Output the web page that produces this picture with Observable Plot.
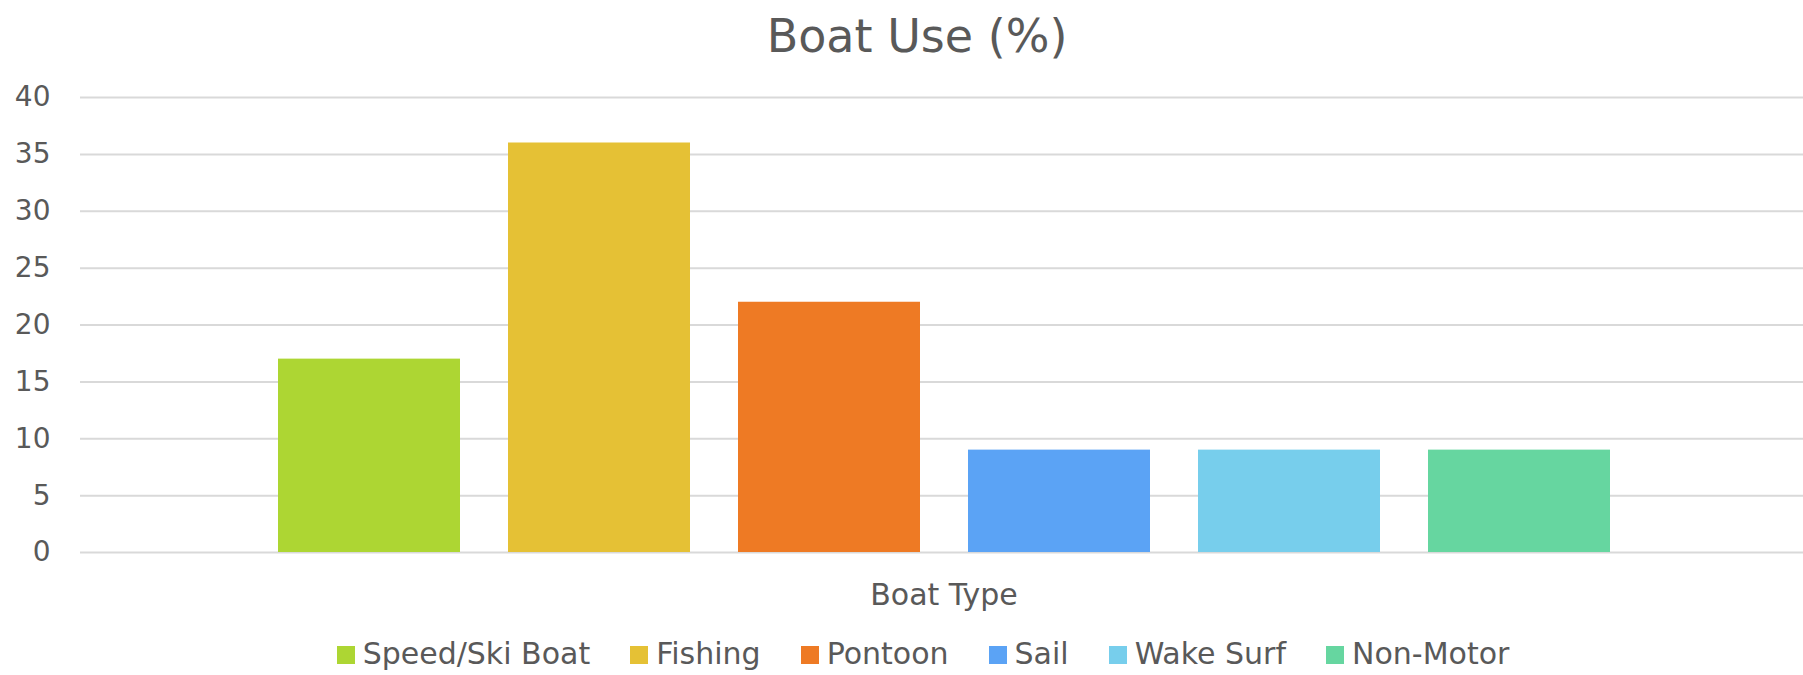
<!DOCTYPE html>
<html>
<head>
<meta charset="utf-8">
<script src="https://cdn.jsdelivr.net/npm/d3@7"></script>
<script src="https://cdn.jsdelivr.net/npm/@observablehq/plot@0.6"></script>
<style>
  html, body { margin: 0; padding: 0; background: #ffffff; }
  #wrap { position: relative; width: 1803px; height: 675px; overflow: hidden; font-family: "DejaVu Sans", sans-serif; }
  #legend { position: absolute; left: 0; top: 637px; width: 1803px; box-sizing: border-box; padding-left: 43px;
            display: flex; justify-content: center; align-items: baseline; font-size: 30px; line-height: 34px; color: #595959; }
  .item { display: flex; align-items: baseline; margin: 0 20px; }
  .sw { display: inline-block; width: 18px; height: 18px; margin-right: 8px; }
</style>
</head>
<body>
<div id="wrap"></div>
<script>
const categories = ["Speed/Ski Boat", "Fishing", "Pontoon", "Sail", "Wake Surf", "Non-Motor"];
const values = [17, 36, 22, 9, 9, 9];
const colors = ["#ADD633", "#E5C135", "#EE7A24", "#5BA3F5", "#77CEEC", "#66D6A0"];
const yTicks = [0, 5, 10, 15, 20, 25, 30, 35, 40];
const title = "Boat Use (%)";
const xLabel = "Boat Type";

const data = categories.map((c, i) => ({cat: c, value: values[i]}));

const chart = Plot.plot({
  width: 1803,
  height: 675,
  marginTop: 97,
  marginBottom: 123,
  marginLeft: 80,
  marginRight: 0,
  style: {fontFamily: "DejaVu Sans, sans-serif", background: "#ffffff", color: "#595959", overflow: "visible"},
  x: {type: "band", domain: categories, paddingInner: 0.2094, paddingOuter: 0.847, align: 0.505, axis: null},
  y: {domain: [0, 40], axis: null},
  color: {domain: categories, range: colors},
  marks: [
    Plot.gridY(yTicks, {stroke: "#D9D9D9", strokeOpacity: 1, strokeWidth: 2}),
    Plot.axisY(yTicks, {tickSize: 0, tickPadding: 30, fontSize: 28, fill: "#595959", label: null}),
    Plot.barY(data, {x: "cat", y: "value", fill: "cat"}),
    Plot.text([title], {text: d => d, frameAnchor: "top", lineAnchor: "middle", dy: -60, dx: -25, fontSize: 46, fill: "#595959"}),
    Plot.text([xLabel], {text: d => d, frameAnchor: "bottom", lineAnchor: "middle", dy: 43, dx: 2, fontSize: 30, fill: "#595959"})
  ]
});

const wrap = document.getElementById("wrap");
wrap.appendChild(chart);

const legend = document.createElement("div");
legend.id = "legend";
categories.forEach((c, i) => {
  const item = document.createElement("div");
  item.className = "item";
  const sw = document.createElement("span");
  sw.className = "sw";
  sw.style.background = colors[i];
  const t = document.createElement("span");
  t.textContent = c;
  item.appendChild(sw);
  item.appendChild(t);
  legend.appendChild(item);
});
wrap.appendChild(legend);
</script>
</body>
</html>
